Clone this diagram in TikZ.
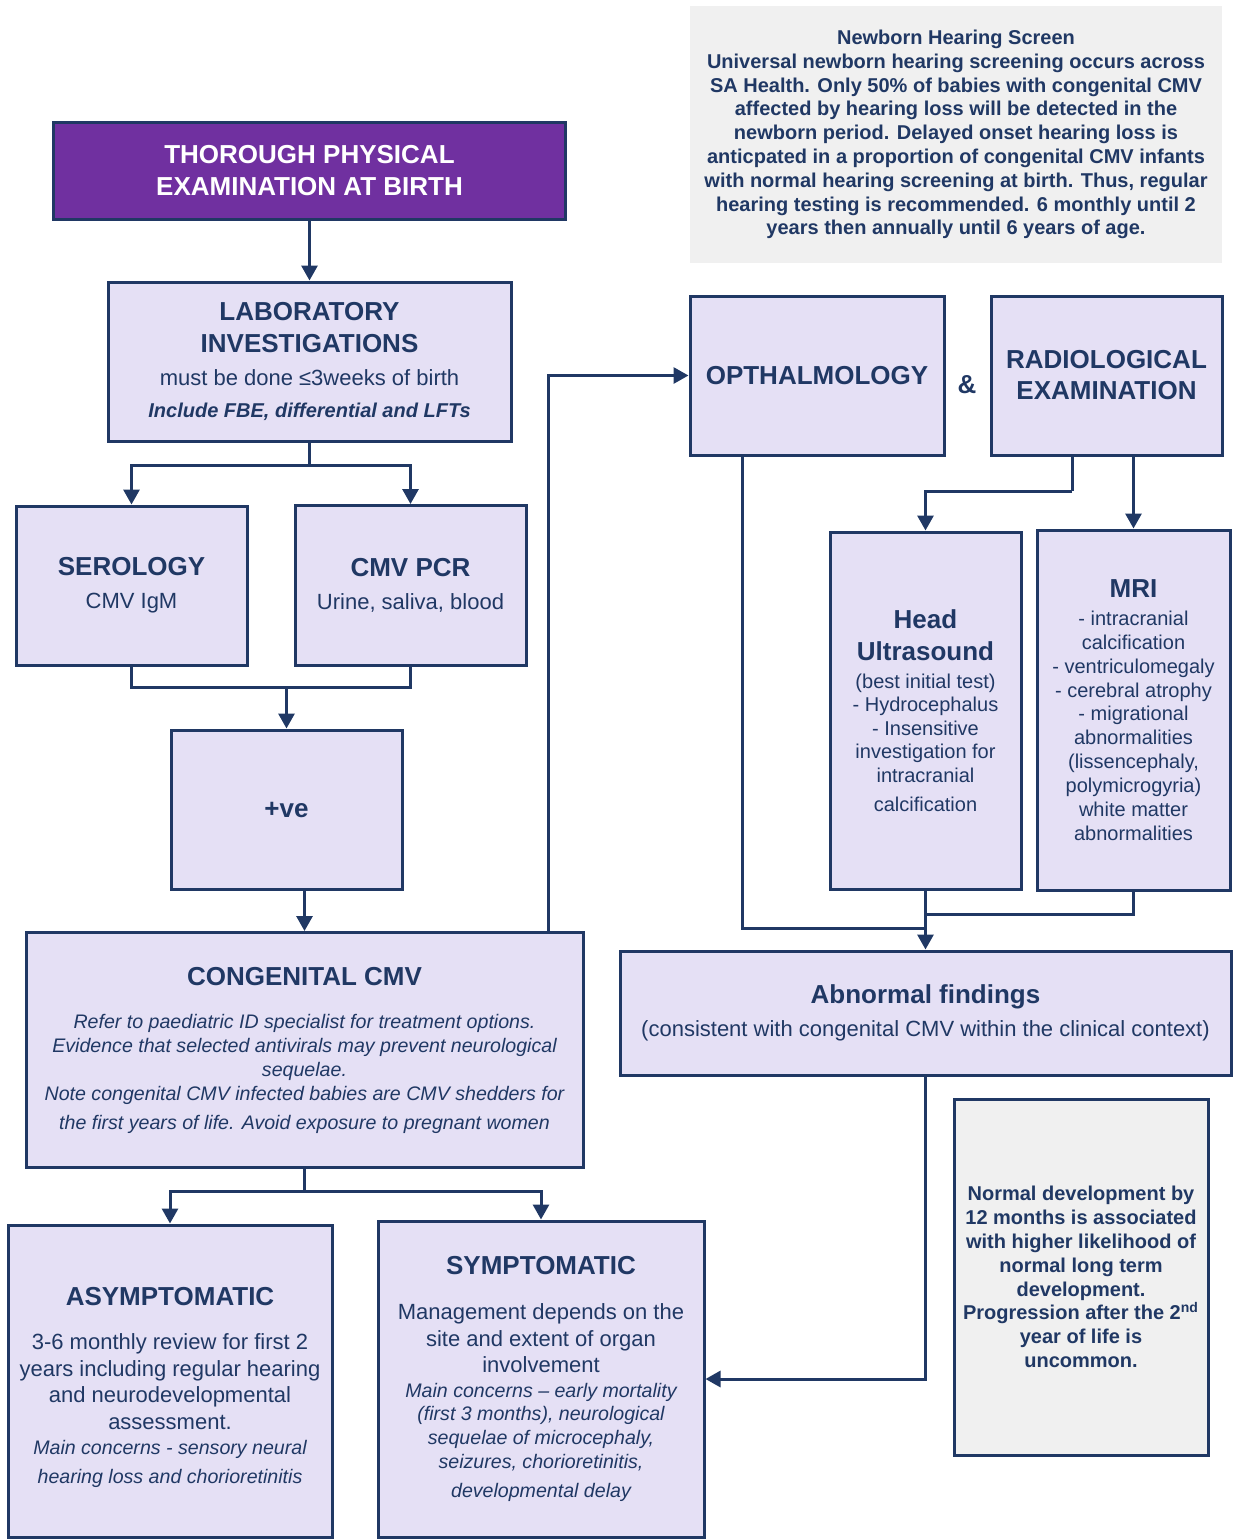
\documentclass[tikz,border=0pt]{standalone}
\usepackage{fontspec}
\setmainfont{Liberation Sans}
\usepackage{tikz}
\usetikzlibrary{arrows.meta}
\definecolor{navy}{HTML}{203864}
\definecolor{lavender}{HTML}{E5E0F5}
\definecolor{exampurple}{HTML}{7030A0}
\definecolor{notegrey}{HTML}{F0F0F0}
\newcommand{\headfont}{\fontsize{13}{16}\selectfont\bfseries}
\newcommand{\notefont}{\fontsize{9.8}{12}\selectfont\itshape}
\tikzstyle{stepbox}=[draw=navy, line width=1.5pt, fill=lavender, text=navy, align=center, inner sep=2pt]
\tikzstyle{birthbox}=[stepbox, fill=exampurple, text=white]
\tikzstyle{notebox}=[fill=notegrey, text=navy, align=center, inner sep=2pt, font=\fontsize{10}{11.9}\selectfont\bfseries]
\tikzstyle{link}=[draw=navy, line width=1.5pt]
\tikzstyle{arrowlink}=[link, -{Triangle[width=8pt,length=7.5pt]}]

\begin{document}
\begin{tikzpicture}[x=0.5pt,y=-0.5pt]
	\useasboundingbox (0,0) rectangle (1235,1539);
	\node[notebox, minimum width=266pt, minimum height=128.5pt] (hearing) at (956,134.5) {Newborn Hearing Screen\\Universal newborn hearing screening occurs across\\SA Health. Only 50\% of babies with congenital CMV\\affected by hearing loss will be detected in the\\newborn period. Delayed onset hearing loss is\\anticpated in a proportion of congenital CMV infants\\with normal hearing screening at birth. Thus, regular\\hearing testing is recommended. 6 monthly until 2\\years then annually until 6 years of age.};
	\node[birthbox, minimum width=256pt, minimum height=48.5pt, font=\fontsize{13}{16}\selectfont\bfseries] (birth) at (309.5,170.5) {THOROUGH PHYSICAL\\EXAMINATION AT BIRTH};
	\node[stepbox, minimum width=201.5pt, minimum height=79.5pt, font=\fontsize{11}{16.2}\selectfont] (lab) at (309.5,361.5) {{\headfont LABORATORY}\\{\headfont INVESTIGATIONS}\\must be done ≤3weeks of birth\\{\fontsize{10}{12}\selectfont\bfseries\itshape Include FBE, differential and LFTs}};
	\node[stepbox, minimum width=115.5pt, minimum height=79.5pt, font=\fontsize{11}{16.5}\selectfont] (sero) at (131.5,585.5) {{\headfont SEROLOGY}\\CMV IgM};
	\node[stepbox, minimum width=115.5pt, minimum height=80pt, font=\fontsize{11}{16.5}\selectfont] (pcr) at (410.5,585.5) {{\headfont CMV PCR}\\Urine, saliva, blood};
	\node[stepbox, minimum width=115.5pt, minimum height=79.5pt, font=\headfont] (pos) at (286.5,809.5) {+ve};
	\node[stepbox, minimum width=278.5pt, minimum height=117.5pt, font=\notefont] (cong) at (304.5,1050) {{\headfont\upshape CONGENITAL CMV}\\[9.5pt]Refer to paediatric ID specialist for treatment options.\\Evidence that selected antivirals may prevent neurological\\sequelae.\\Note congenital CMV infected babies are CMV shedders for\\[2.5pt]the first years of life. Avoid exposure to pregnant women};
	\node[stepbox, minimum width=162pt, minimum height=156pt, font=\fontsize{11}{13.3}\selectfont] (asym) at (170,1381) {{\headfont\rule{0pt}{15.5pt}ASYMPTOMATIC}\\[8.7pt]3-6 monthly review for first 2\\years including regular hearing\\and neurodevelopmental\\assessment.\\[-0.8pt]{\notefont Main concerns - sensory neural}\\[1.2pt]{\notefont hearing loss and chorioretinitis}};
	\node[stepbox, minimum width=163pt, minimum height=158pt, font=\fontsize{11}{13.2}\selectfont] (symp) at (541,1379) {{\headfont SYMPTOMATIC}\\[9.3pt]Management depends on the\\site and extent of organ\\involvement\\[-0.7pt]{\notefont Main concerns – early mortality}\\[-1.7pt]{\notefont (first 3 months), neurological}\\[-1.2pt]{\notefont sequelae of microcephaly,}\\[-1.2pt]{\notefont seizures, chorioretinitis,}\\[1.3pt]{\notefont developmental delay}};
	\node[stepbox, minimum width=127pt, minimum height=79.5pt, font=\headfont] (opht) at (817,375.5) {OPTHALMOLOGY};
	\node[text=navy, font=\headfont] (amp) at (967,385) {\&};
	\node[stepbox, minimum width=115.5pt, minimum height=79.5pt, font=\fontsize{13}{15.5}\selectfont\bfseries] (radio) at (1106.5,375.5) {RADIOLOGICAL\\EXAMINATION};
	\node[stepbox, minimum width=95.5pt, minimum height=178.5pt, font=\fontsize{10}{11.75}\selectfont] (hus) at (925.5,710.5) {{\headfont Head}\\[4.25pt]{\headfont Ultrasound}\\[2.25pt](best initial test)\\- Hydrocephalus\\- Insensitive\\investigation for\\intracranial\\[2.75pt]calcification};
	\node[stepbox, minimum width=96.5pt, minimum height=180pt, font=\fontsize{10}{11.95}\selectfont] (mri) at (1133.5,710) {{\headfont MRI}\\[2.05pt]- intracranial\\calcification\\- ventriculomegaly\\- cerebral atrophy\\- migrational\\abnormalities\\(lissencephaly,\\polymicrogyria)\\white matter\\abnormalities};
	\node[stepbox, minimum width=305.5pt, minimum height=62pt, font=\fontsize{11}{16.5}\selectfont] (abn) at (925.5,1013) {{\headfont Abnormal findings}\\(consistent with congenital CMV within the clinical context)};
	\node[notebox, draw=navy, line width=1.5pt, minimum width=127pt, minimum height=178pt] (devel) at (1081,1277) {Normal development by\\12 months is associated\\with higher likelihood of\\normal long term\\development.\\Progression after the 2\textsuperscript{nd}\\year of life is\\uncommon.};

	\coordinate (labsplit) at (309.5,465);
	\coordinate (testjoin) at (286.5,687);
	\coordinate (congsplit) at (304.5,1191);
	\coordinate (radiosplit) at (1072,491);
	\coordinate (mrijoin) at (925.5,914);
	\coordinate (ophjoin) at (925.5,928);

	\draw[arrowlink] (birth) -- (lab);
	\draw[link] (lab.south) -- (labsplit);
	\draw[arrowlink] (labsplit) -| (sero.north);
	\draw[arrowlink] (labsplit) -| (pcr.north);
	\draw[link] (sero.south) |- (testjoin) -| (pcr.south);
	\draw[arrowlink] (testjoin) -- (pos.north);
	\draw[arrowlink] (pos.south -| cong.north) -- (cong.north);
	\draw[arrowlink] ([xshift=-18pt]cong.north east) |- (opht.west);
	\draw[link] (cong.south) -- (congsplit);
	\draw[arrowlink] (congsplit) -| (asym.north);
	\draw[arrowlink] (congsplit) -| (symp.north);
	\draw[link] (radio.south -| radiosplit) -- (radiosplit);
	\draw[arrowlink] (radiosplit) -| (hus.north);
	\draw[arrowlink] (radio.south -| mri.north) -- (mri.north);
	\draw[link] (mri.south) |- (mrijoin);
	\draw[link] ([xshift=27pt]opht.south west) |- (ophjoin);
	\draw[arrowlink] (hus.south) -- (abn.north);
	\draw[arrowlink] (abn.south) |- (symp.east);
\end{tikzpicture}
\end{document}
